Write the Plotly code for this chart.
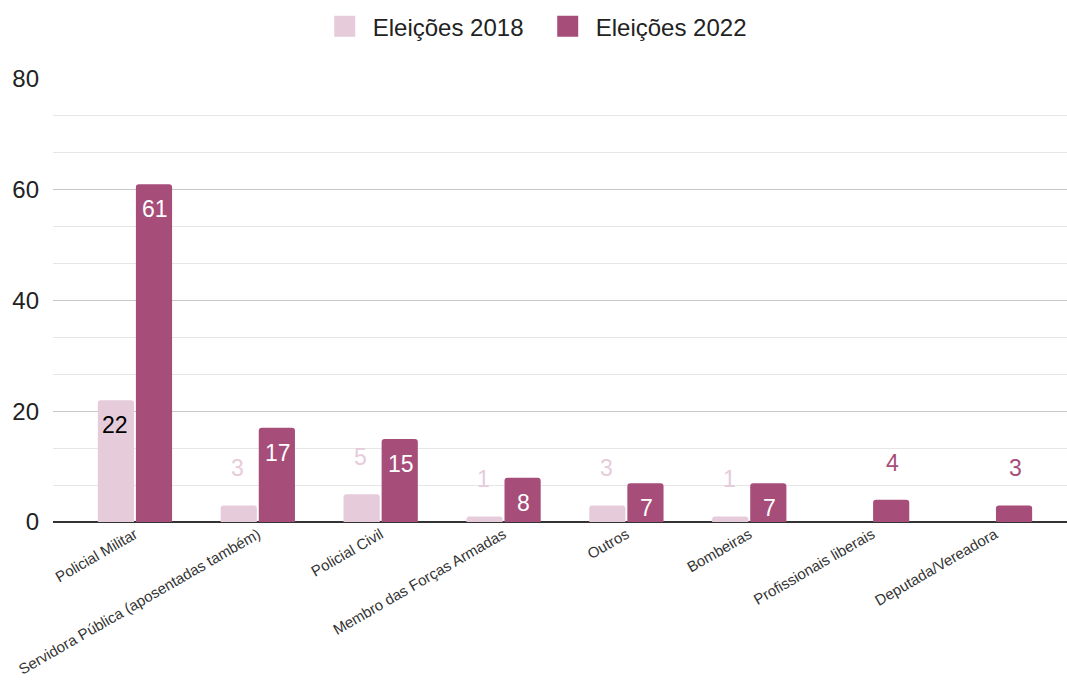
import plotly.graph_objects as go

categorias = [
    "Policial Militar",
    "Servidora Pública (aposentadas também)",
    "Policial Civil",
    "Membro das Forças Armadas",
    "Outros",
    "Bombeiras",
    "Profissionais liberais",
    "Deputada/Vereadora",
]
eleicoes_2018 = [22, 3, 5, 1, 3, 1, None, None]
eleicoes_2022 = [61, 17, 15, 8, 7, 7, 4, 3]
series = ["Eleições 2018", "Eleições 2022"]

COR_2018 = "#e6cbdb"
COR_2022 = "#a64d79"
FONTE = "Liberation Sans, Arial, sans-serif"

fig = go.Figure()
fig.add_trace(go.Bar(name=series[0], x=categorias, y=eleicoes_2018, showlegend=False,
                     marker=dict(color=COR_2018, line_width=0)))
fig.add_trace(go.Bar(name=series[1], x=categorias, y=eleicoes_2022, showlegend=False,
                     marker=dict(color=COR_2022, line_width=0)))

# legend entries with large square swatches
for nome, cor in zip(series, [COR_2018, COR_2022]):
    fig.add_trace(go.Scatter(name=nome, x=[None], y=[None], mode="markers",
                             marker=dict(symbol="square", size=16, color=cor,
                                         line=dict(color=cor, width=5))))

# value labels: inside the top of tall bars, above short ones
def rotulos(valores, deslocamento_x, cor_dentro, cor_fora):
    for cat, v in zip(categorias, valores):
        if v is None:
            continue
        dentro = v >= 7
        fig.add_annotation(
            x=cat, y=v, xref="x", yref="y", text=str(v), showarrow=False,
            xshift=deslocamento_x, yshift=-25 if dentro else 37,
            font=dict(family=FONTE, size=23, color=cor_dentro if dentro else cor_fora),
        )

rotulos(eleicoes_2018, -20, "#000000", COR_2018)
rotulos(eleicoes_2022, 20, "#ffffff", COR_2022)

fig.update_layout(
    width=1067, height=686,
    margin=dict(l=53, r=0, t=79, b=164),
    paper_bgcolor="white", plot_bgcolor="white",
    barmode="group", bargap=0.38, bargroupgap=0.05, barcornerradius=3,
    font=dict(family=FONTE, color="#222222"),
    showlegend=True,
    legend=dict(orientation="h", x=0.48, xanchor="center", y=1.118, yanchor="middle",
                font=dict(size=24, color="#222222"), itemsizing="trace",
                itemwidth=46, entrywidth=162, tracegroupgap=0),
)
fig.update_xaxes(
    range=[-0.667, 7.586], tickangle=-30, tickfont=dict(size=15, color="#333333"),
    showgrid=False, showline=False, ticks="",
)
fig.update_yaxes(
    range=[0, 80], dtick=20, tickfont=dict(size=24, color="#222222"),
    showgrid=True, gridcolor="#c8c8c8", gridwidth=1,
    minor=dict(dtick=20 / 3, tick0=0, showgrid=True, gridcolor="#e6e6e6", gridwidth=1),
    zeroline=True, zerolinecolor="#333333", zerolinewidth=1.5,
    ticks="", ticklabelstandoff=13,
)

fig.write_html("out.html")
